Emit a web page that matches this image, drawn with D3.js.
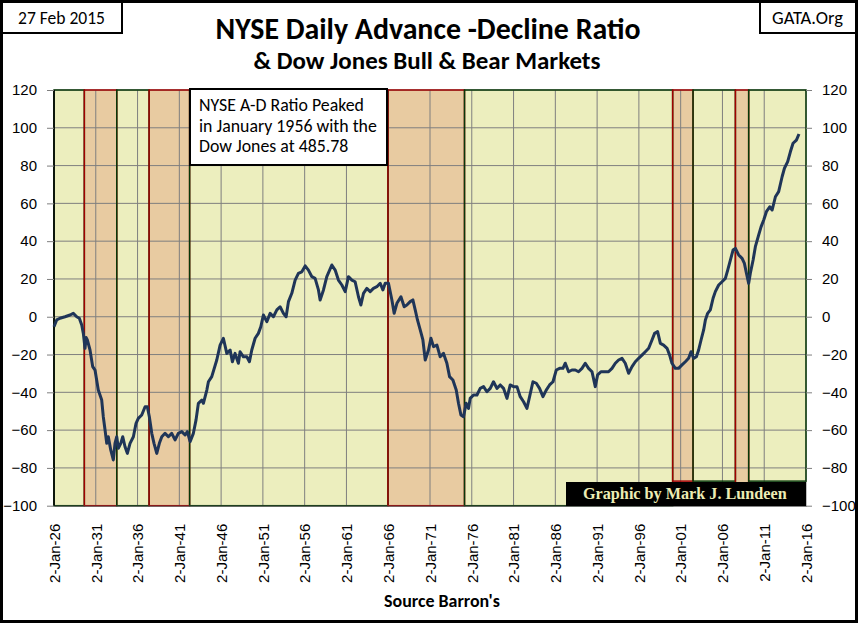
<!DOCTYPE html>
<html><head><meta charset="utf-8">
<script src="https://cdn.jsdelivr.net/npm/d3@7/dist/d3.min.js"></script>
<style>body{margin:0;background:#fff}svg{display:block}</style>
</head><body>
<script>
// ---- data (decimal years, A-D ratio value) ----
const years = [1926.00,1926.32,1926.72,1927.32,1927.92,1928.31,1928.72,1929.03,1929.32,1929.51,1929.71,1929.85,1929.99,
1930.31,1930.63,1930.91,1931.30,1931.71,1931.90,1932.11,1932.31,1932.50,1932.79,1933.10,1933.30,1933.51,1933.70,1933.99,
1934.23,1934.50,1934.78,1935.10,1935.50,1935.82,1936.09,1936.50,1936.90,1937.17,1937.41,1937.70,1937.97,1938.30,1938.61,
1938.90,1939.29,1939.69,1940.09,1940.49,1940.88,1941.29,1941.69,1941.96,1942.29,1942.68,1943.00,1943.28,1943.69,1943.88,
1944.29,1944.48,1944.88,1945.48,1945.88,1946.27,1946.68,1947.08,1947.35,1947.67,1948.07,1948.27,1948.67,1949.08,1949.39,
1949.67,1950.07,1950.46,1950.75,1951.06,1951.47,1951.87,1952.26,1952.67,1953.06,1953.46,1953.78,1954.06,1954.46,1954.86,
1955.25,1955.66,1956.06,1956.45,1956.86,1957.25,1957.65,1957.85,1958.25,1958.65,1959.25,1959.65,1960.04,1960.45,1960.85,
1961.24,1961.65,1962.04,1962.44,1962.73,1963.04,1963.44,1963.84,1964.23,1964.64,1965.04,1965.36,1965.64,1966.03,1966.44,
1966.71,1967.04,1967.52,1967.91,1968.23,1968.63,1968.95,1969.23,1969.50,1969.83,1970.15,1970.43,1970.82,1971.11,1971.42,
1971.83,1972.22,1972.62,1973.02,1973.34,1973.74,1974.14,1974.41,1974.70,1975.01,1975.33,1975.61,1975.81,1976.21,1976.62,
1977.01,1977.41,1977.81,1978.21,1978.60,1979.01,1979.41,1979.80,1980.21,1980.60,1981.00,1981.41,1981.80,1982.20,1982.60,
1982.92,1983.32,1983.72,1984.11,1984.52,1984.91,1985.31,1985.72,1986.11,1986.51,1986.91,1987.19,1987.59,1987.99,1988.39,
1988.78,1989.19,1989.58,1989.98,1990.39,1990.78,1991.06,1991.46,1991.98,1992.37,1992.78,1993.18,1993.57,1993.98,1994.37,
1994.77,1995.18,1995.57,1995.97,1996.37,1996.77,1997.17,1997.57,1997.88,1998.24,1998.57,1998.96,1999.37,1999.68,1999.96,
2000.36,2000.75,2001.16,2001.56,2001.95,2002.24,2002.55,2002.88,2003.15,2003.44,2003.75,2003.96,2004.23,2004.55,2004.88,
2005.15,2005.55,2005.95,2006.35,2006.63,2006.95,2007.27,2007.55,2007.94,2008.35,2008.63,2008.87,2009.14,2009.34,2009.67,
2009.94,2010.34,2010.63,2010.94,2011.26,2011.66,2011.95,2012.34,2012.73,2013.14,2013.42,2013.81,2014.13,2014.45,2014.85,2015.16];
const adRatio = [-5.3,-1.7,-0.8,0,0.9,1.8,0,-0.8,-4.4,-8.8,-16.7,-11,-12.3,
-17.6,-26.4,-28.2,-38.8,-44.1,-52.9,-59.9,-67,-63.5,-70.5,-75.8,-67,-63.5,-69.6,-67,
-63.5,-68.8,-72.3,-67,-63.5,-56.4,-53.8,-52,-47.6,-47.6,-52.9,-61.7,-67,-72.3,-67,
-63.5,-61.7,-63.5,-61.7,-65.2,-61.7,-60.8,-62.6,-60.8,-66.1,-61.7,-54.6,-45.8,-44.1,-45.8,
-38.8,-34.4,-31.7,-22.9,-15,-11.4,-19.4,-17.6,-23.8,-19.4,-24.6,-18.5,-21.2,-21.2,-23.8,
-17.6,-11.4,-8.8,-5.3,0.9,-2.6,1.8,0,3.6,5.3,1.8,0,8,12.4,19.4,
23,23.8,26.9,24.7,21.2,20.3,14.2,8.9,14.2,21.2,27.4,24.7,19.4,16.8,13.3,
21.2,19.4,18.5,10.6,6.2,12.4,15,13.3,15,15.9,17.7,14.2,17.7,17.7,8.9,
1.8,7.1,10.6,5.3,6.2,8,8.9,3.6,-1.7,-7,-12.3,-22.9,-17.6,-11.4,-15.8,
-15,-21.2,-19.4,-24.6,-31.7,-33.5,-38.8,-45.8,-52,-52.9,-45.8,-48.5,-43.2,-41.4,-41.4,
-37.9,-37,-39.7,-37.9,-34.4,-37.9,-36.1,-37.9,-43.2,-36.1,-37,-37,-42.3,-45,-48.5,
-42.3,-34.4,-35.2,-37.9,-42.3,-38.8,-36.1,-34.4,-28.2,-27.3,-27.3,-24.6,-29.1,-28.2,-28.2,
-29.1,-27.3,-24.6,-27.3,-29.1,-37,-30.8,-29.1,-29.1,-29.1,-27.3,-24.6,-22.9,-22,-24.6,
-29.9,-26.4,-23.8,-22,-20.3,-18.5,-16.7,-12.3,-8.8,-7.9,-14.1,-15,-16.7,-20.3,-24.6,
-27.3,-27.3,-25.5,-23.8,-22,-18.5,-22,-21.2,-17.6,-12.3,-7,-1.7,1.8,3.6,9.8,
13.3,16.8,18.5,20.3,24.7,30,35.3,36.2,32.7,30.9,28.2,23,17.7,23,30,
37.1,43.3,47.7,51.2,55.6,58.2,56.5,63.5,66.2,74.1,78.6,82.1,87.3,91.8,93.5,96.7];

// Dow Jones bull / bear market shading
const regionStart  = [1926.00,1929.63,1933.51,1937.38,1942.23,1965.97,1975.13,2000.04,2002.48,2007.55,2009.14];
const regionEnd    = [1929.63,1933.51,1937.38,1942.23,1965.97,1975.13,2000.04,2002.48,2007.55,2009.14,2016.00];
const regionType   = ["bull","bear","bull","bear","bull","bear","bull","bear","bull","bear","bull"];
const regionBottom = [-100,-100,-100,-100,-100,-100,-100,-87,-87,-88,-87];
const regionTop = 120;

const xTicks = [1926,1931,1936,1941,1946,1951,1956,1961,1966,1971,1976,1981,1986,1991,1996,2001,2006,2011,2016];
const xTickLabels = ["2-Jan-26","2-Jan-31","2-Jan-36","2-Jan-41","2-Jan-46","2-Jan-51","2-Jan-56","2-Jan-61","2-Jan-66","2-Jan-71","2-Jan-76","2-Jan-81","2-Jan-86","2-Jan-91","2-Jan-96","2-Jan-01","2-Jan-06","2-Jan-11","2-Jan-16"];
const yTicks = [-100,-80,-60,-40,-20,0,20,40,60,80,100,120];

const titleText = "NYSE Daily Advance -Decline Ratio";
const subtitleText = "& Dow Jones Bull & Bear Markets";
const noteLines = ["NYSE A-D Ratio Peaked","in January 1956 with the","Dow Jones at 485.78"];

// ---- drawing ----
const W = 858, H = 623;
const svg = d3.select("body").append("svg").attr("width", W).attr("height", H);
svg.append("rect").attr("width", W).attr("height", H).attr("fill", "#fff");

const x = d3.scaleLinear().domain([1926, 2016]).range([54, 806]);
const y = d3.scaleLinear().domain([-100, 120]).range([505.7, 90]);

const calibri = "Carlito, Lato, 'Open Sans', sans-serif";
const arial = "'Liberation Sans', Arial, sans-serif";
function fit(sel, target) {
  const n = sel.node();
  const fs = parseFloat(sel.attr("font-size"));
  const w = n.getComputedTextLength();
  if (w > 0) sel.attr("font-size", (fs * target / w).toFixed(2));
  return sel;
}

const fills = {bull: "#ECEEBE", bear: "#E8CBA1"};
const strokes = {bull: "#083808", bear: "#A00000"};
const regions = regionStart.map((s, i) => ({s, e: regionEnd[i], t: regionType[i], b: regionBottom[i]}));

// fills
svg.append("g").selectAll("rect").data(regions).join("rect")
  .attr("x", d => x(d.s)).attr("width", d => x(d.e) - x(d.s))
  .attr("y", y(regionTop)).attr("height", d => y(d.b) - y(regionTop))
  .attr("fill", d => fills[d.t]);

// gridlines
const grid = svg.append("g").attr("stroke", "#7f7f7f").attr("stroke-width", 1);
grid.selectAll("line.h").data(yTicks).join("line").attr("class", "h")
  .attr("x1", x(1926)).attr("x2", x(2016)).attr("y1", d => y(d)).attr("y2", d => y(d));
grid.selectAll("line.v").data(xTicks).join("line").attr("class", "v")
  .attr("x1", d => x(d)).attr("x2", d => x(d)).attr("y1", y(120)).attr("y2", y(-100));

// region borders
svg.append("g").selectAll("rect").data(regions).join("rect")
  .attr("x", d => x(d.s)).attr("width", d => x(d.e) - x(d.s))
  .attr("y", y(regionTop)).attr("height", d => y(d.b) - y(regionTop))
  .attr("fill", "none").attr("stroke", d => strokes[d.t]).attr("stroke-width", 1.5);

// axes
const yl = svg.append("g").attr("transform", `translate(${x(1926)},0)`)
  .call(d3.axisLeft(y).tickValues(yTicks).tickSize(7).tickPadding(10).tickFormat(d3.format("d")));
const yr = svg.append("g").attr("transform", `translate(${x(2016)},0)`)
  .call(d3.axisRight(y).tickValues(yTicks).tickSize(6).tickPadding(10).tickFormat(d3.format("d")));
[yl, yr].forEach(g => {
  g.attr("font-family", arial).attr("font-size", 15);
  g.selectAll("text").attr("font-family", arial).attr("font-size", 15).attr("fill", "#000");
  g.selectAll("line").attr("stroke", "#7f7f7f");
});
yl.select(".domain").attr("stroke", "#000").attr("stroke-width", 1.5).attr("d", `M0,${y(120)}V${y(-100)}`);
yr.select(".domain").remove();

const xa = svg.append("g").attr("transform", `translate(0,${y(-100)})`)
  .call(d3.axisBottom(x).tickValues(xTicks).tickSize(0).tickFormat((d, i) => xTickLabels[i]));
xa.attr("font-family", arial).attr("font-size", 15);
xa.select(".domain").attr("stroke", "#555").attr("stroke-width", 1);
xa.selectAll("text")
  .attr("font-family", arial).attr("font-size", 15).attr("fill", "#000")
  .attr("text-anchor", "end").attr("transform", "translate(0,18) rotate(-90)")
  .attr("x", 0).attr("y", 0).attr("dy", "0.35em");

// data line
const line = d3.line().x((d, i) => x(years[i])).y(d => y(d));
svg.append("path").datum(adRatio).attr("d", line)
  .attr("fill", "none").attr("stroke", "#1F3558").attr("stroke-width", 3).attr("stroke-linejoin", "round");

// annotation box
svg.append("rect").attr("x", 190).attr("y", 89).attr("width", 197).attr("height", 76)
  .attr("fill", "#fff").attr("stroke", "#000").attr("stroke-width", 2);
const nt = svg.append("g");
const nl = noteLines.map((t, i) => nt.append("text").attr("x", 199).attr("y", 111 + i * 20.5)
  .attr("font-family", calibri).attr("font-size", 16).attr("fill", "#000").text(t));
fit(nl[0], 165);
nl.forEach(s => s.attr("font-size", nl[0].attr("font-size")));

// credit box
svg.append("rect").attr("x", 566).attr("y", 482).attr("width", 240).attr("height", 24).attr("fill", "#000");
fit(svg.append("text").attr("x", 583).attr("y", 499)
  .attr("font-family", "'Liberation Serif', 'Times New Roman', serif").attr("font-weight", "bold")
  .attr("font-size", 17).attr("fill", "#ECECB4").text("Graphic by Mark J. Lundeen"), 204);

// titles
fit(svg.append("text").attr("x", 428).attr("y", 38.5).attr("text-anchor", "middle")
  .attr("font-family", calibri).attr("font-weight", "bold").attr("font-size", 27).attr("fill", "#000")
  .text(titleText), 425);
fit(svg.append("text").attr("x", 427).attr("y", 69).attr("text-anchor", "middle")
  .attr("font-family", calibri).attr("font-weight", "bold").attr("font-size", 22).attr("fill", "#000")
  .text(subtitleText), 347);

// corner boxes
svg.append("rect").attr("x", 1).attr("y", 1).attr("width", 121).attr("height", 32)
  .attr("fill", "#fff").attr("stroke", "#000").attr("stroke-width", 2);
fit(svg.append("text").attr("x", 18).attr("y", 23.5).attr("font-family", calibri).attr("font-size", 16)
  .attr("fill", "#000").text("27 Feb 2015"), 87);
svg.append("rect").attr("x", 760).attr("y", 1).attr("width", 97).attr("height", 32)
  .attr("fill", "#fff").attr("stroke", "#000").attr("stroke-width", 2);
fit(svg.append("text").attr("x", 772).attr("y", 23.5).attr("font-family", calibri).attr("font-size", 16)
  .attr("fill", "#000").text("GATA.Org"), 71);

// source
fit(svg.append("text").attr("x", 442).attr("y", 607).attr("text-anchor", "middle")
  .attr("font-family", calibri).attr("font-weight", "bold").attr("font-size", 16).attr("fill", "#000")
  .text("Source Barron's"), 116);

// outer frame
svg.append("rect").attr("x", 1.5).attr("y", 1.5).attr("width", W - 3).attr("height", H - 3)
  .attr("fill", "none").attr("stroke", "#000").attr("stroke-width", 3);
</script>
</body></html>
